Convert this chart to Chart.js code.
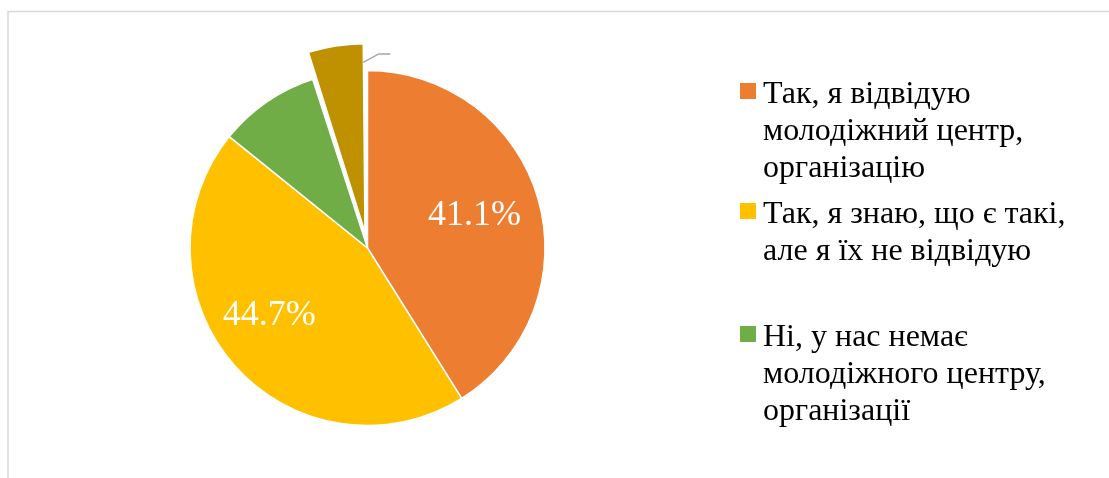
<!DOCTYPE html>
<html>
<head>
<meta charset="utf-8">
<script src="https://cdn.jsdelivr.net/npm/chart.js@4/dist/chart.umd.min.js"></script>
<style>
  html, body { margin: 0; padding: 0; background: #fff; }
  #wrap { position: relative; width: 1109px; height: 478px; }
</style>
</head>
<body>
<div id="wrap"><canvas id="pieChart" width="1109" height="478"></canvas></div>
<script>
// data
const categories = [
  'Так, я відвідую молодіжний центр, організацію',
  'Так, я знаю, що є такі, але я їх не відвідую',
  'Ні, у нас немає молодіжного центру, організації',
  'Інше'
];
const legendLines = [
  ['Так, я відвідую', 'молодіжний центр,', 'організацію'],
  ['Так, я знаю, що є такі,', 'але я їх не відвідую'],
  ['Ні, у нас немає', 'молодіжного центру,', 'організації']
];
const shares = [41.1, 44.7, 9.2, 5.0];
const showValue = [true, true, false, false];

const colors = ['#ED7D31', '#FFC000', '#70AD47', '#BF9000'];
const offsets = [0, 0, 0, 64];   // gold slice pulled out

// layout bits
const serif = '"Liberation Serif", "Times New Roman", serif';
const labelNudge = [[-4, -1], [-12, -9]];
const legendX = 740;
const legendTops = [103, 223, 346];   // first baseline of each entry
const lineH = 37;

const decor = {
  id: 'decor',
  beforeDraw(chart) {
    const c = chart.ctx;
    c.save();
    c.strokeStyle = '#d9d9d9';
    c.lineWidth = 1.5;
    c.beginPath();
    c.moveTo(8, 478);
    c.lineTo(8, 11.5);
    c.lineTo(1109, 11.5);
    c.stroke();
    c.restore();
  },
  afterDatasetsDraw(chart) {
    const c = chart.ctx;
    const arcs = chart.getDatasetMeta(0).data;
    c.save();

    // value labels
    c.font = '36px ' + serif;
    c.fillStyle = '#fff';
    c.textAlign = 'center';
    c.textBaseline = 'middle';
    arcs.forEach((a, i) => {
      if (!showValue[i]) return;
      const mid = (a.startAngle + a.endAngle) / 2;
      const r = a.outerRadius * 0.65;
      const n = labelNudge[i] || [0, 0];
      c.fillText(shares[i].toFixed(1) + '%', a.x + Math.cos(mid) * r + n[0], a.y + Math.sin(mid) * r + n[1]);
    });

    // leader line of the pulled-out slice (label itself is empty)
    const g = arcs[3];
    const half = (g.startAngle + g.endAngle) / 2;
    const fix = 1 - Math.sin(Math.min(Math.PI, g.endAngle - g.startAngle));
    const shift = offsets[3] / 4 * (1 + fix);
    const sx = g.x + Math.cos(half) * shift + Math.cos(g.endAngle) * g.outerRadius * 0.895;
    const sy = g.y + Math.sin(half) * shift + Math.sin(g.endAngle) * g.outerRadius * 0.895;
    c.strokeStyle = '#a6a6a6';
    c.lineWidth = 1.5;
    c.beginPath();
    c.moveTo(sx, sy);
    c.lineTo(sx + 15.5, sy - 8.5);
    c.lineTo(sx + 27, sy - 8.5);
    c.stroke();

    // legend (only the first three entries fit)
    c.textAlign = 'left';
    c.textBaseline = 'alphabetic';
    c.font = '32px ' + serif;
    legendLines.forEach((lines, i) => {
      const y0 = legendTops[i];
      c.fillStyle = colors[i];
      c.fillRect(legendX, y0 - 20, 16, 16);
      c.fillStyle = '#000';
      lines.forEach((t, k) => c.fillText(t, legendX + 23, y0 + k * lineH));
    });
    c.restore();
  }
};

new Chart(document.getElementById('pieChart'), {
  type: 'pie',
  data: {
    labels: categories,
    datasets: [{
      data: shares,
      backgroundColor: colors,
      borderColor: '#fff',
      borderWidth: 1.5,
      offset: offsets
    }]
  },
  options: {
    responsive: false,
    animation: false,
    devicePixelRatio: 1,
    radius: 177.5,
    layout: { padding: { left: 0, right: 374, top: 18, bottom: 0 } },
    plugins: {
      legend: { display: false },
      tooltip: { enabled: false }
    }
  },
  plugins: [decor]
});
</script>
</body>
</html>
